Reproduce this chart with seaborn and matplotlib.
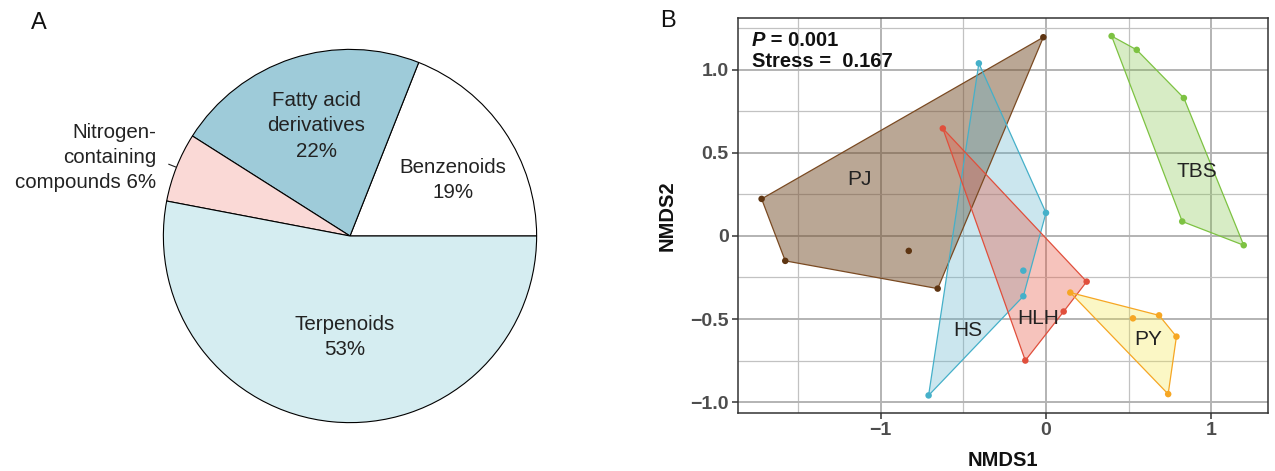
import numpy as np
import pandas as pd
import matplotlib
matplotlib.use("Agg")
import matplotlib.pyplot as plt
import seaborn as sns

# --- datos del panel A (pie) ---
pie_labels = ["Benzenoids", "Fatty acid derivatives", "Nitrogen-containing compounds", "Terpenoids"]
pie_values = [19, 22, 6, 53]

# --- datos del panel B (NMDS) ---
pj_x = [-0.016, -1.720, -1.577, -0.655, -0.830]
pj_y = [1.196, 0.223, -0.150, -0.317, -0.090]
hs_x = [-0.406, 0.000, -0.137, -0.137, -0.710]
hs_y = [1.039, 0.139, -0.209, -0.363, -0.960]
hlh_x = [-0.624, 0.246, 0.107, -0.125]
hlh_y = [0.647, -0.275, -0.455, -0.750]
py_x = [0.147, 0.526, 0.684, 0.789, 0.739]
py_y = [-0.341, -0.496, -0.478, -0.606, -0.952]
tbs_x = [0.397, 0.549, 0.834, 0.824, 1.196]
tbs_y = [1.203, 1.120, 0.830, 0.087, -0.056]

groups = ["PJ", "HS", "HLH", "PY", "TBS"]
xs = [pj_x, hs_x, hlh_x, py_x, tbs_x]
ys = [pj_y, hs_y, hlh_y, py_y, tbs_y]

df = pd.concat([pd.DataFrame({"NMDS1": x, "NMDS2": y, "group": g})
                for g, x, y in zip(groups, xs, ys)], ignore_index=True)

# estilos
pie_colors = ["#ffffff", "#9ecbd9", "#fad9d6", "#d5edf1"]
line_col = {"PJ": "#7a4a22", "HS": "#45b0c9", "HLH": "#e04f3c", "PY": "#f6a623", "TBS": "#7dc242"}
point_col = {"PJ": "#5e3512", "HS": "#45b0c9", "HLH": "#e04f3c", "PY": "#f6a623", "TBS": "#7dc242"}
fill_col = {"PJ": ("#77502d", 0.5), "HS": ("#5fb3cc", 0.32), "HLH": ("#e8553f", 0.35),
            "PY": ("#f2e642", 0.3), "TBS": ("#7dc242", 0.3)}
label_pos = {"PJ": (-1.125, 0.34), "HS": (-0.47, -0.568), "HLH": (-0.047, -0.498),
             "PY": (0.619, -0.624), "TBS": (0.912, 0.386)}

sns.set_theme(style="white")
plt.rcParams["font.family"] = ["Liberation Sans", "DejaVu Sans"]


def convex_hull(pts):
    pts = sorted(set(pts))
    def cross(o, a, b):
        return (a[0] - o[0]) * (b[1] - o[1]) - (a[1] - o[1]) * (b[0] - o[0])
    lower, upper = [], []
    for p in pts:
        while len(lower) >= 2 and cross(lower[-2], lower[-1], p) <= 0:
            lower.pop()
        lower.append(p)
    for p in reversed(pts):
        while len(upper) >= 2 and cross(upper[-2], upper[-1], p) <= 0:
            upper.pop()
        upper.append(p)
    return lower[:-1] + upper[:-1]


fig = plt.figure(figsize=(12.75, 4.71), dpi=100)

# ==========================================
# PANEL A: pie
# ==========================================
axA = fig.add_axes([163 / 1275, 48 / 471, 374 / 1275, 374 / 471])
wedges, _ = axA.pie(pie_values, colors=pie_colors, startangle=0, counterclock=True,
                    radius=1, wedgeprops=dict(edgecolor="black", linewidth=0.8))
axA.set_xlim(-1.002, 1.002)
axA.set_ylim(-1.002, 1.002)
axA.set_aspect("equal")
axA.axis("off")

txt_kw = dict(fontsize=14.8, color="#222222", ha="center", va="center", linespacing=1.42)
axA.text(-0.18, 0.59, "Fatty acid\nderivatives\n22%", **txt_kw)
axA.text(0.55, 0.30, "Benzenoids\n19%", **txt_kw)
axA.text(-0.027, -0.54, "Terpenoids\n53%", **txt_kw)
axA.text(-1.04, 0.42, "Nitrogen-\ncontaining\ncompounds 6%", fontsize=14.8, color="#222222",
         ha="right", va="center", linespacing=1.42)
w = wedges[2]
mid = np.deg2rad((w.theta1 + w.theta2) / 2)
axA.plot([np.cos(mid), 1.045 * np.cos(mid)], [np.sin(mid), 1.045 * np.sin(mid)],
         color="#222222", lw=0.8, clip_on=False)
fig.text(39 / 1275, 1 - 23 / 471, "A", fontsize=17, ha="center", va="center", color="#111111")

# ==========================================
# PANEL B: NMDS
# ==========================================
axB = fig.add_axes([738.3 / 1275, 58.3 / 471, 529.4 / 1275, 394.4 / 471])

for g in groups:
    sub = df[df["group"] == g]
    hull = convex_hull(list(zip(sub["NMDS1"], sub["NMDS2"])))
    hx = [p[0] for p in hull]
    hy = [p[1] for p in hull]
    c, a = fill_col[g]
    axB.fill(hx, hy, facecolor=c, alpha=a, edgecolor="none", zorder=2)
    axB.fill(hx, hy, facecolor="none", edgecolor=line_col[g], linewidth=0.9, zorder=3)

sns.scatterplot(data=df, x="NMDS1", y="NMDS2", hue="group", palette=point_col,
                s=22, linewidth=0, legend=False, ax=axB, zorder=4)

for g in groups:
    axB.text(*label_pos[g], g, fontsize=15, color="#222222", ha="center", va="center", zorder=5)

axB.set_xlim(-1.861, 1.341)
axB.set_ylim(-1.064, 1.31)
axB.set_xticks([-1, 0, 1])
axB.set_xticklabels(["\u22121", "0", "1"])
axB.set_yticks([-1.0, -0.5, 0, 0.5, 1.0])
axB.set_yticklabels(["\u22121.0", "\u22120.5", "0", "0.5", "1.0"])
axB.set_xticks([-1.5, -0.5, 0.5], minor=True)
axB.set_yticks([-0.75, -0.25, 0.25, 0.75, 1.25], minor=True)
axB.grid(True, which="major", color="#b3b3b3", linewidth=1.4, zorder=0)
axB.grid(True, which="minor", color="#c2c2c2", linewidth=0.9, zorder=0)
axB.set_axisbelow(True)
axB.tick_params(axis="both", which="major", direction="out", length=4, width=1.1,
                color="#333333", labelcolor="#4d4d4d", labelsize=14, pad=3,
                bottom=True, left=True)
axB.tick_params(axis="both", which="minor", length=0)
for lab in axB.get_xticklabels() + axB.get_yticklabels():
    lab.set_fontweight("bold")
for sp in axB.spines.values():
    sp.set_color("#333333")
    sp.set_linewidth(1.1)

axB.set_xlabel("NMDS1", fontsize=14.5, fontweight="bold", color="#111111", labelpad=8)
axB.set_ylabel("NMDS2", fontsize=14.5, fontweight="bold", color="#111111", labelpad=10)

t = axB.text(0.025, 0.93, "P", transform=axB.transAxes, fontsize=14.5, fontweight="bold",
             fontstyle="italic", color="#111111", va="baseline", ha="left", zorder=6)
axB.annotate(" = 0.001", xy=(1, 0), xycoords=t, fontsize=14.5, fontweight="bold",
             color="#111111", va="bottom", ha="left", zorder=6)
axB.text(0.025, 0.876, "Stress =  0.167", transform=axB.transAxes, fontsize=14.5,
         fontweight="bold", color="#111111", va="baseline", ha="left", zorder=6)

fig.text(668 / 1275, 1 - 21 / 471, "B", fontsize=17, ha="center", va="center", color="#111111")

fig.savefig("out.png", dpi=100)
